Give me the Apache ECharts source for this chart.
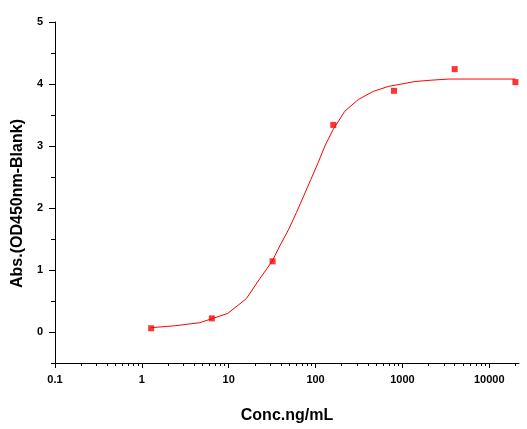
<!DOCTYPE html>
<html><head><meta charset="utf-8">
<script src="https://cdn.jsdelivr.net/npm/echarts@6/dist/echarts.min.js"></script>
<style>html,body{margin:0;padding:0;background:#fff}#c{width:527px;height:429px}</style>
</head><body><div id="c"></div>
<script>
// measured points
var pointX = [1.28, 6.4, 32, 160, 800, 4000, 20000];
var pointY = [0.06, 0.22, 1.14, 3.34, 3.89, 4.24, 4.03];
// fitted curve
var curveX = [1.28, 2.39, 4.65, 9.77, 16.0, 22.8, 31.6, 38.8, 49.2, 60.4, 73.3, 88.3, 107, 128, 160, 217, 310, 461, 686, 1393, 2075, 3436, 20000];
var curveY = [0.07, 0.10, 0.15, 0.30, 0.54, 0.86, 1.14, 1.39, 1.66, 1.93, 2.20, 2.46, 2.73, 3.00, 3.27, 3.56, 3.75, 3.88, 3.96, 4.04, 4.06, 4.08, 4.08];
// ticks
var xMajorTicks = [0.1, 1, 10, 100, 1000, 10000];
var xMinorTicks = [0.2,0.3,0.4,0.5,0.6,0.7,0.8,0.9, 2,3,4,5,6,7,8,9, 20,30,40,50,60,70,80,90, 200,300,400,500,600,700,800,900, 2000,3000,4000,5000,6000,7000,8000,9000, 20000];
var yMajorTicks = [0, 1, 2, 3, 4, 5];
var yMinorTicks = [-0.5, 0.5, 1.5, 2.5, 3.5, 4.5];

var FONT = 'Liberation Sans, Arial, sans-serif';
var chart = echarts.init(document.getElementById('c'), null, {renderer: 'canvas'});
var curve = curveX.map(function (x, i) { return [x, curveY[i]]; });
var pts = pointX.map(function (x, i) { return [x, pointY[i]]; });
var lineStyle = {color: '#000', width: 1};
chart.setOption({
  animation: false,
  backgroundColor: '#fff',
  grid: {left: 55, right: 8, top: 22, bottom: 64, containLabel: false},
  xAxis: [{
    type: 'log', logBase: 10, min: 0.1, max: 22000,
    name: 'Conc.ng/mL', nameLocation: 'middle', nameGap: 45,
    nameTextStyle: {fontFamily: FONT, fontWeight: 'bold', fontSize: 16, color: '#000'},
    axisLine: {show: true, onZero: false, lineStyle: lineStyle},
    axisTick: {show: true, length: 5, lineStyle: lineStyle, customValues: xMajorTicks},
    axisLabel: {show: true, margin: 11, fontFamily: FONT, fontWeight: 'bold', fontSize: 11, color: '#000',
      customValues: xMajorTicks, formatter: function (v) { return String(v); }},
    splitLine: {show: false}, minorTick: {show: false}, minorSplitLine: {show: false}
  }, {
    type: 'log', logBase: 10, min: 0.1, max: 22000, position: 'bottom',
    axisLine: {show: false, onZero: false},
    axisTick: {show: true, length: 3, lineStyle: lineStyle, customValues: xMinorTicks},
    axisLabel: {show: false}, splitLine: {show: false}
  }],
  yAxis: [{
    type: 'value', min: -0.5, max: 5,
    name: 'Abs.(OD450nm-Blank)', nameLocation: 'middle', nameGap: 26, nameRotate: 90,
    nameTextStyle: {fontFamily: FONT, fontWeight: 'bold', fontSize: 16, color: '#000', padding: [0, 22, 0, 0]},
    axisLine: {show: true, onZero: false, lineStyle: lineStyle},
    axisTick: {show: true, length: 6, lineStyle: lineStyle, customValues: yMajorTicks},
    axisLabel: {show: true, margin: 12, fontFamily: FONT, fontWeight: 'bold', fontSize: 11, color: '#000',
      customValues: yMajorTicks},
    splitLine: {show: false}
  }, {
    type: 'value', min: -0.5, max: 5, position: 'left',
    axisLine: {show: false, onZero: false},
    axisTick: {show: true, length: 4, lineStyle: lineStyle, customValues: yMinorTicks},
    axisLabel: {show: false}, splitLine: {show: false}
  }],
  series: [{
    type: 'line', data: curve, xAxisIndex: 0, yAxisIndex: 0,
    showSymbol: false, smooth: false,
    lineStyle: {color: '#ff0000', width: 1}, itemStyle: {color: '#ff0000'}, z: 2
  }, {
    type: 'scatter', data: pts, xAxisIndex: 0, yAxisIndex: 0,
    symbol: 'rect', symbolSize: 6, itemStyle: {color: '#ff0000'}, z: 3
  }]
});
</script></body></html>
